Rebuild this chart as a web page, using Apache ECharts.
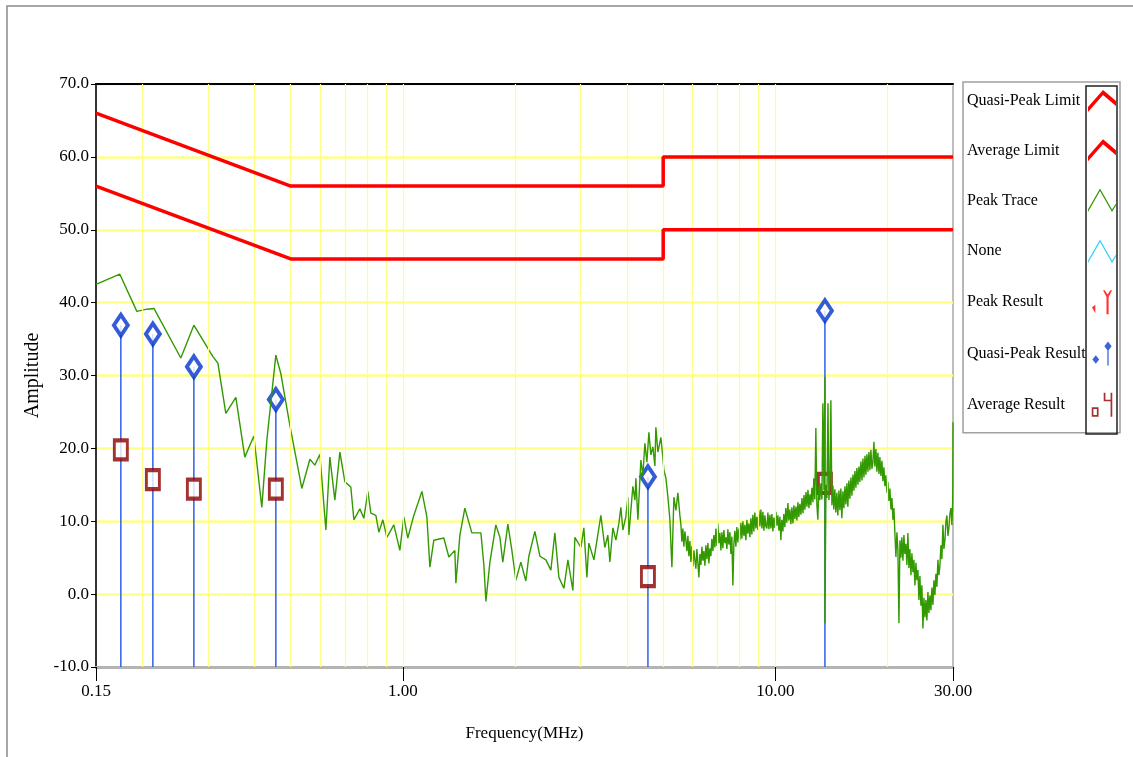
<!DOCTYPE html>
<html><head><meta charset="utf-8">
<script src="https://cdn.jsdelivr.net/npm/echarts@6/dist/echarts.min.js"></script>
<style>html,body{margin:0;padding:0;background:#fff}#c{width:1133px;height:757px}</style>
</head><body><div id="c"></div>
<script>
const FONT = '"Liberation Serif", "Times New Roman", serif';

// ---- axes ----
const X_MIN = 0.15, X_MAX = 30;
const Y_MIN = -10, Y_MAX = 70, Y_STEP = 10;
const xTickValues = [0.15, 1, 10, 30];
const xTickLabels = ['0.15', '1.00', '10.00', '30.00'];
const gridFreqs = [0.2, 0.3, 0.4, 0.5, 0.6, 0.7, 0.8, 0.9, 1, 2, 3, 4, 5, 6, 7, 8, 9, 10, 20];

// ---- limits ----
const qpLimitFreq = [0.15, 0.5, 5, 5, 30];
const qpLimitAmp = [66, 56, 56, 60, 60];
const avgLimitFreq = [0.15, 0.5, 5, 5, 30];
const avgLimitAmp = [56, 46, 46, 50, 50];

// ---- results ----
const qpFreq = [0.1749, 0.2132, 0.2747, 0.456, 4.55, 13.59];
const qpAmp = [36.9, 35.7, 31.2, 26.7, 16.1, 38.9];
const avgFreq = [0.1749, 0.2132, 0.2747, 0.456, 4.55, 13.59];
const avgAmp = [19.8, 15.7, 14.4, 14.4, 2.4, 15.2];

// ---- peak trace: low band (0.15 - 5.6 MHz) ----
const traceFreqLow = [
 0.15, 0.1738, 0.1931, 0.2054, 0.2146, 0.2534, 0.2747, 0.3090, 0.3187, 0.3347,
 0.3561, 0.3764, 0.3980, 0.4181, 0.4313, 0.4560, 0.4705, 0.4972, 0.5355, 0.5628,
 0.5804, 0.5987, 0.6213, 0.6368, 0.6568, 0.6774, 0.6988, 0.7249, 0.7387, 0.7667,
 0.7856, 0.8055, 0.8206, 0.8463, 0.8621, 0.8837, 0.9059, 0.9458, 0.9816, 1.006,
 1.031, 1.070, 1.125, 1.160, 1.182, 1.211, 1.288, 1.329, 1.379, 1.388,
 1.423, 1.467, 1.532, 1.620, 1.650, 1.671, 1.713, 1.777, 1.822, 1.855,
 1.914, 1.962, 2.011, 2.074, 2.139, 2.179, 2.262, 2.333, 2.421, 2.497,
 2.559, 2.624, 2.706, 2.774, 2.861, 2.897, 3.006, 3.062, 3.120, 3.158,
 3.258, 3.401, 3.486, 3.551, 3.596, 3.664, 3.733, 3.802, 3.849, 3.897,
 3.969, 4.019, 4.044, 4.145, 4.198, 4.224, 4.276, 4.356, 4.410, 4.465,
 4.521, 4.577, 4.634, 4.692, 4.750, 4.779, 4.839, 4.930, 4.991, 5.022,
 5.085, 5.148, 5.212, 5.277, 5.342, 5.409, 5.476, 5.544
];
const traceAmpLow = [
 42.5, 43.9, 38.8, 39.1, 39.2, 32.4, 36.9, 32.6, 31.7, 24.8,
 27.0, 18.8, 21.7, 11.9, 21.1, 32.8, 30.2, 23.2, 14.5, 18.5,
 17.7, 19.2, 8.8, 18.8, 12.9, 19.5, 15.4, 14.7, 10.2, 11.7,
 10.4, 14.1, 11.1, 10.8, 8.5, 10.2, 7.8, 9.5, 6.0, 10.6,
 7.7, 10.8, 14.1, 10.6, 3.7, 7.4, 7.7, 5.1, 6.0, 1.5,
 8.1, 11.8, 8.4, 8.4, 4.0, -1.0, 4.4, 9.5, 7.8, 4.4,
 9.6, 6.0, 1.9, 4.4, 1.8, 5.2, 8.6, 5.2, 4.7, 3.3,
 8.4, 2.3, 0.8, 4.7, 0.5, 7.8, 6.4, 9.1, 2.3, 7.0,
 4.7, 10.8, 6.4, 8.1, 4.4, 9.1, 7.4, 9.7, 11.9, 8.8,
 10.6, 13.3, 8.1, 14.8, 12.9, 15.9, 10.2, 18.4, 16.3, 20.7,
 18.1, 22.2, 19.1, 20.2, 17.6, 22.9, 19.5, 21.5, 18.7, 17.0,
 15.9, 13.3, 10.2, 3.7, 13.3, 11.5, 13.9, 10.8
];

// ---- peak trace: high band (5.6 - 30 MHz), dense sweep ----
const traceFreqHigh = [
 5.578, 5.613, 5.647, 5.682, 5.718, 5.753, 5.789, 5.825, 5.861, 5.897,
 5.934, 5.971, 6.008, 6.045, 6.083, 6.120, 6.158, 6.197, 6.235, 6.274,
 6.313, 6.352, 6.392, 6.431, 6.471, 6.511, 6.552, 6.592, 6.633, 6.674,
 6.715, 6.757, 6.799, 6.841, 6.883, 6.926, 6.969, 7.012, 7.056, 7.099,
 7.143, 7.187, 7.232, 7.277, 7.322, 7.367, 7.413, 7.459, 7.505, 7.552,
 7.598, 7.645, 7.693, 7.740, 7.788, 7.837, 7.885, 7.934, 7.983, 8.033,
 8.083, 8.133, 8.184, 8.235, 8.286, 8.337, 8.389, 8.441, 8.493, 8.546,
 8.598, 8.651, 8.705, 8.759, 8.813, 8.868, 8.923, 8.978, 9.034, 9.090,
 9.148, 9.205, 9.262, 9.319, 9.377, 9.435, 9.494, 9.553, 9.612, 9.671,
 9.732, 9.792, 9.853, 9.914, 9.976, 10.04, 10.10, 10.16, 10.23, 10.29,
 10.35, 10.41, 10.48, 10.54, 10.61, 10.67, 10.74, 10.81, 10.87, 10.94,
 11.01, 11.08, 11.15, 11.22, 11.29, 11.36, 11.43, 11.50, 11.57, 11.64,
 11.72, 11.79, 11.87, 11.94, 12.01, 12.09, 12.16, 12.24, 12.31, 12.39,
 12.46, 12.54, 12.62, 12.69, 12.77, 12.85, 12.93, 13.01, 13.09, 13.17,
 13.26, 13.34, 13.42, 13.51, 13.59, 13.59, 13.68, 13.76, 13.85, 13.93, 14.02,
 14.10, 14.19, 14.28, 14.36, 14.45, 14.54, 14.63, 14.72, 14.82, 14.91,
 15.00, 15.09, 15.19, 15.28, 15.38, 15.47, 15.57, 15.66, 15.76, 15.86,
 15.96, 16.06, 16.16, 16.26, 16.36, 16.46, 16.56, 16.67, 16.77, 16.87,
 16.98, 17.09, 17.19, 17.30, 17.41, 17.51, 17.62, 17.73, 17.84, 17.95,
 18.06, 18.17, 18.28, 18.40, 18.51, 18.63, 18.74, 18.86, 18.98, 19.09,
 19.21, 19.33, 19.45, 19.57, 19.69, 19.81, 19.94, 20.06, 20.18, 20.31,
 20.44, 20.57, 20.69, 20.82, 20.95, 21.08, 21.21, 21.34, 21.48, 21.61,
 21.74, 21.87, 22.01, 22.15, 22.28, 22.42, 22.56, 22.70, 22.84, 22.98,
 23.13, 23.27, 23.42, 23.56, 23.71, 23.86, 24.00, 24.15, 24.30, 24.45,
 24.60, 24.75, 24.91, 25.06, 25.22, 25.37, 25.53, 25.69, 25.85, 26.01,
 26.17, 26.33, 26.50, 26.66, 26.83, 26.99, 27.16, 27.33, 27.50, 27.67,
 27.84, 28.01, 28.19, 28.36, 28.54, 28.71, 28.89, 29.07, 29.25, 29.43,
 29.62, 29.80, 29.95, 30.0
];
const traceAmpHigh = [
 9.6, 7.2, 9.0, 6.5, 8.6, 7.4, 5.9, 8.0, 5.2, 7.3,
 4.4, 6.6, 3.8, 6.0, 4.6, 3.5, 6.2, 4.2, 2.3, 5.5,
 4.0, 6.5, 4.6, 5.9, 3.9, 6.7, 4.8, 7.0, 4.2, 6.3,
 5.2, 7.6, 5.9, 8.1, 6.4, 9.0, 6.6, 9.7, 7.0, 8.4,
 6.0, 8.5, 6.3, 8.8, 7.0, 7.8, 6.2, 8.9, 6.8, 8.5,
 5.5, 7.9, 1.2, 6.8, 8.7, 6.5, 9.2, 7.1, 9.0, 7.4,
 9.8, 7.6, 10.0, 8.0, 9.5, 7.4, 10.2, 8.3, 9.7, 7.8,
 10.4, 8.2, 10.9, 8.6, 11.2, 9.0, 10.6, 8.8, 11.5, 9.3,
 11.6, 9.0, 11.3, 8.7, 10.8, 9.3, 9.0, 11.2, 8.9, 10.9,
 9.0, 11.0, 8.6, 10.5, 9.1, 11.3, 9.4, 10.8, 8.7, 10.6,
 7.4, 10.2, 8.6, 11.0, 9.2, 11.8, 9.8, 12.5, 10.1, 11.6,
 9.6, 11.9, 9.7, 12.2, 10.3, 12.0, 10.1, 12.6, 10.6, 12.4,
 10.9, 13.2, 11.1, 13.6, 11.6, 14.0, 12.0, 14.3, 11.8, 13.7,
 12.2, 14.6, 12.6, 15.9, 13.0, 22.8, 12.3, 10.2, 14.8, 12.9,
 15.2, 13.0, 26.2, 14.3, 29.8, -4.0, 15.0, 13.2, 26.2, 12.9, 15.3,
 26.6, 12.2, 14.9, 11.6, 14.4, 11.2, 13.9, 10.8, 14.2, 11.5,
 14.5, 10.4, 14.1, 11.8, 14.8, 12.3, 15.2, 12.0, 15.6, 13.1,
 16.0, 13.5, 16.4, 14.2, 16.9, 14.6, 17.3, 15.0, 17.5, 15.4,
 18.2, 15.6, 18.6, 16.0, 19.0, 16.4, 19.2, 16.8, 19.5, 17.0,
 19.8, 17.2, 18.0, 20.9, 17.5, 19.9, 16.8, 19.4, 16.5, 18.8,
 16.2, 18.3, 15.5, 17.4, 14.8, 16.3, 13.9, 15.4, 12.8, 14.5,
 11.6, 13.2, 10.2, 11.8, 8.2, 5.1, 8.5, 6.0, -4.0, 7.4,
 5.0, 7.8, 4.6, 8.1, 5.5, 6.9, 4.0, 8.4, 3.6, 6.2,
 2.6, 5.6, 3.0, 4.7, 1.2, 4.3, 1.9, 3.3, -0.8, 2.5,
 -1.6, 1.2, -4.7, -0.5, -3.2, -0.8, -3.6, 0.3, -2.6, -0.2,
 -2.2, 0.9, -1.5, 1.9, -0.1, 2.8, 1.0, 4.7, 2.6, 3.9,
 6.7, 4.8, 9.5, 6.2, 7.4, 9.9, 10.8, 8.0, 9.1, 11.0,
 11.8, 9.5, 12.9, 23.6
];
const traceFreq = traceFreqLow.concat(traceFreqHigh);
const traceAmp = traceAmpLow.concat(traceAmpHigh);

// ---- legend ----
const legendNames = ['Quasi-Peak Limit', 'Average Limit', 'Peak Trace', 'None', 'Peak Result', 'Quasi-Peak Result', 'Average Result'];
const legendColors = ['#ff0000', '#ff0000', '#339900', '#33ccff', '#ff0000', '#0b3fd1', '#8b0000'];

const ICON_LIMIT = 'path://M0,19 L15,2 L28,13 L28,18 L15,7 L0,24 Z';
const ICON_TRACE = 'path://M0,23 L12,2 L24,23 L28,17 L28,19 L24,25.5 L12,4.5 L0,25.5 Z';
const ICON_PEAKRES = 'path://M0,20 L4,17 L4,27 Z M17,7 L19.5,7 L19.5,28 L17,28 Z M13,0 L15,0 L18.25,5 L21.5,0 L23.5,0 L19.5,8 L17,8 Z';
const ICON_QPRES = 'path://M0,21 L4,16 L8,21 L4,26 Z M17.5,10 L19,10 L19,28 L17.5,28 Z M18.25,0 L22.5,5.5 L18.25,11 L14,5.5 Z';
const ICON_AVGRES = 'path://M0,17 L8,17 L8,28 L0,28 Z M2,19 L2,26 L6,26 L6,19 Z M14,0 L16,0 L16,8 L22,8 L22,0 L24,0 L24,28 L22,28 L22,10 L14,10 Z';
const legendIcons = [ICON_LIMIT, ICON_LIMIT, ICON_TRACE, ICON_TRACE, ICON_PEAKRES, ICON_QPRES, ICON_AVGRES];

function pairs(xs, ys) { return xs.map((x, i) => [x, ys[i]]); }
function labelFor(v) {
  for (let i = 0; i < xTickValues.length; i++) {
    if (Math.abs(v - xTickValues[i]) <= 1e-6 * xTickValues[i]) return xTickLabels[i];
  }
  return '';
}

const chart = echarts.init(document.getElementById('c'), null, { renderer: 'canvas' });

const option = {
  animation: false,
  backgroundColor: '#ffffff',
  grid: { left: 96, top: 84, width: 857, height: 583, show: true, borderColor: '#a8a8a8', borderWidth: 1.5, backgroundColor: '#ffffff' },
  xAxis: [
    {
      type: 'log', logBase: 10, min: X_MIN, max: X_MAX, position: 'bottom',
      name: 'Frequency(MHz)', nameLocation: 'middle', nameGap: 58,
      nameTextStyle: { fontFamily: FONT, fontSize: 17, color: '#000' },
      axisLine: { show: true, onZero: false, lineStyle: { color: '#b4b4b4', width: 3 } },
      axisTick: { show: true, customValues: xTickValues, length: 14, lineStyle: { color: '#000', width: 1 } },
      axisLabel: { customValues: xTickValues, margin: 16, formatter: v => labelFor(v), fontFamily: FONT, fontSize: 17, color: '#000' },
      splitLine: { show: false }
    },
    {
      type: 'log', logBase: 10, min: X_MIN, max: X_MAX, position: 'top',
      axisLine: { show: true, onZero: false, lineStyle: { color: '#000', width: 2 } },
      axisTick: { show: false }, axisLabel: { show: false }, splitLine: { show: false }
    }
  ],
  yAxis: {
    type: 'value', min: Y_MIN, max: Y_MAX, interval: Y_STEP,
    name: 'Amplitude', nameLocation: 'middle', nameGap: 47, nameRotate: 90,
    nameTextStyle: { fontFamily: FONT, fontSize: 20, color: '#000' },
    axisLine: { show: true, onZero: false, lineStyle: { color: '#333', width: 2 } },
    axisTick: { show: true, length: 5, lineStyle: { color: '#000', width: 1 } },
    axisLabel: { margin: 7, formatter: v => v.toFixed(1), fontFamily: FONT, fontSize: 17, color: '#000' },
    splitLine: { show: true, lineStyle: { color: '#ffff88', width: 2.5 } }
  },
  legend: {
    orient: 'vertical', left: 963, top: 82, align: 'right',
    itemWidth: 28, itemHeight: 24, itemGap: 27.3,
    padding: [8, 4, 16, 4],
    borderColor: '#a0a0a0', borderWidth: 1.5, backgroundColor: '#ffffff',
    selectedMode: false,
    formatter: '{n|{name}}',
    textStyle: { fontFamily: FONT, fontSize: 16, color: '#000',
      rich: { n: { width: 116, align: 'left', fontFamily: FONT, fontSize: 16, color: '#000' } } },
    data: legendNames.map((n, i) => ({ name: n, icon: legendIcons[i], itemStyle: { color: legendColors[i], borderWidth: 0 } }))
  },
  graphic: [
    { type: 'rect', silent: true, z: 0, shape: { x: 7, y: 6, width: 1140, height: 760 }, style: { fill: 'none', stroke: '#8a8a8a', lineWidth: 1.5 } },
    { type: 'rect', silent: true, z: 100, shape: { x: 1086, y: 86, width: 31, height: 348 }, style: { fill: 'none', stroke: '#222', lineWidth: 1.5 } }
  ],
  series: [
    {
      name: '_grid', type: 'line', data: [], silent: true, z: 1,
      markLine: {
        silent: true, symbol: ['none', 'none'], label: { show: false }, animation: false,
        lineStyle: { color: '#ffff88', width: 1.2, type: 'solid' },
        emphasis: { disabled: true },
        data: gridFreqs.map(f => ({ xAxis: f }))
      }
    },
    {
      name: '_stems', type: 'custom', silent: true, z: 2,
      data: pairs(qpFreq, qpAmp),
      renderItem: function (params, api) {
        const top = api.coord([api.value(0), api.value(1)]);
        const bottom = api.coord([api.value(0), Y_MIN]);
        return { type: 'line', shape: { x1: top[0], y1: top[1], x2: bottom[0], y2: bottom[1] },
                 style: { stroke: '#3060e8', lineWidth: 1.5 } };
      }
    },
    {
      name: 'Average Result', type: 'scatter', z: 3, silent: true,
      data: pairs(avgFreq, avgAmp), symbol: 'rect', symbolSize: [13, 19],
      itemStyle: { color: '#ffffff', borderColor: '#8b0000', borderWidth: 3.5 }
    },
    {
      name: 'Quasi-Peak Result', type: 'scatter', z: 3, silent: true,
      data: pairs(qpFreq, qpAmp), symbol: 'diamond', symbolSize: [14, 21],
      itemStyle: { color: '#ffffff', borderColor: '#0033cc', borderWidth: 4 }
    },
    { name: 'Peak Result', type: 'scatter', data: [], itemStyle: { color: '#ff0000' } },
    {
      name: 'Peak Trace', type: 'line', z: 4, silent: true, showSymbol: false, symbol: 'none',
      data: pairs(traceFreq, traceAmp),
      lineStyle: { color: '#339900', width: 1.4 }, itemStyle: { color: '#339900' }
    },
    { name: 'None', type: 'line', data: [], itemStyle: { color: '#33ccff' }, lineStyle: { color: '#33ccff' } },
    {
      name: 'Quasi-Peak Limit', type: 'line', z: 5, silent: true, showSymbol: false, symbol: 'none',
      data: pairs(qpLimitFreq, qpLimitAmp),
      lineStyle: { color: '#ff0000', width: 3.5 }, itemStyle: { color: '#ff0000' }
    },
    {
      name: 'Average Limit', type: 'line', z: 5, silent: true, showSymbol: false, symbol: 'none',
      data: pairs(avgLimitFreq, avgLimitAmp),
      lineStyle: { color: '#ff0000', width: 3.5 }, itemStyle: { color: '#ff0000' }
    }
  ]
};
chart.setOption(option);
</script>
</body></html>
